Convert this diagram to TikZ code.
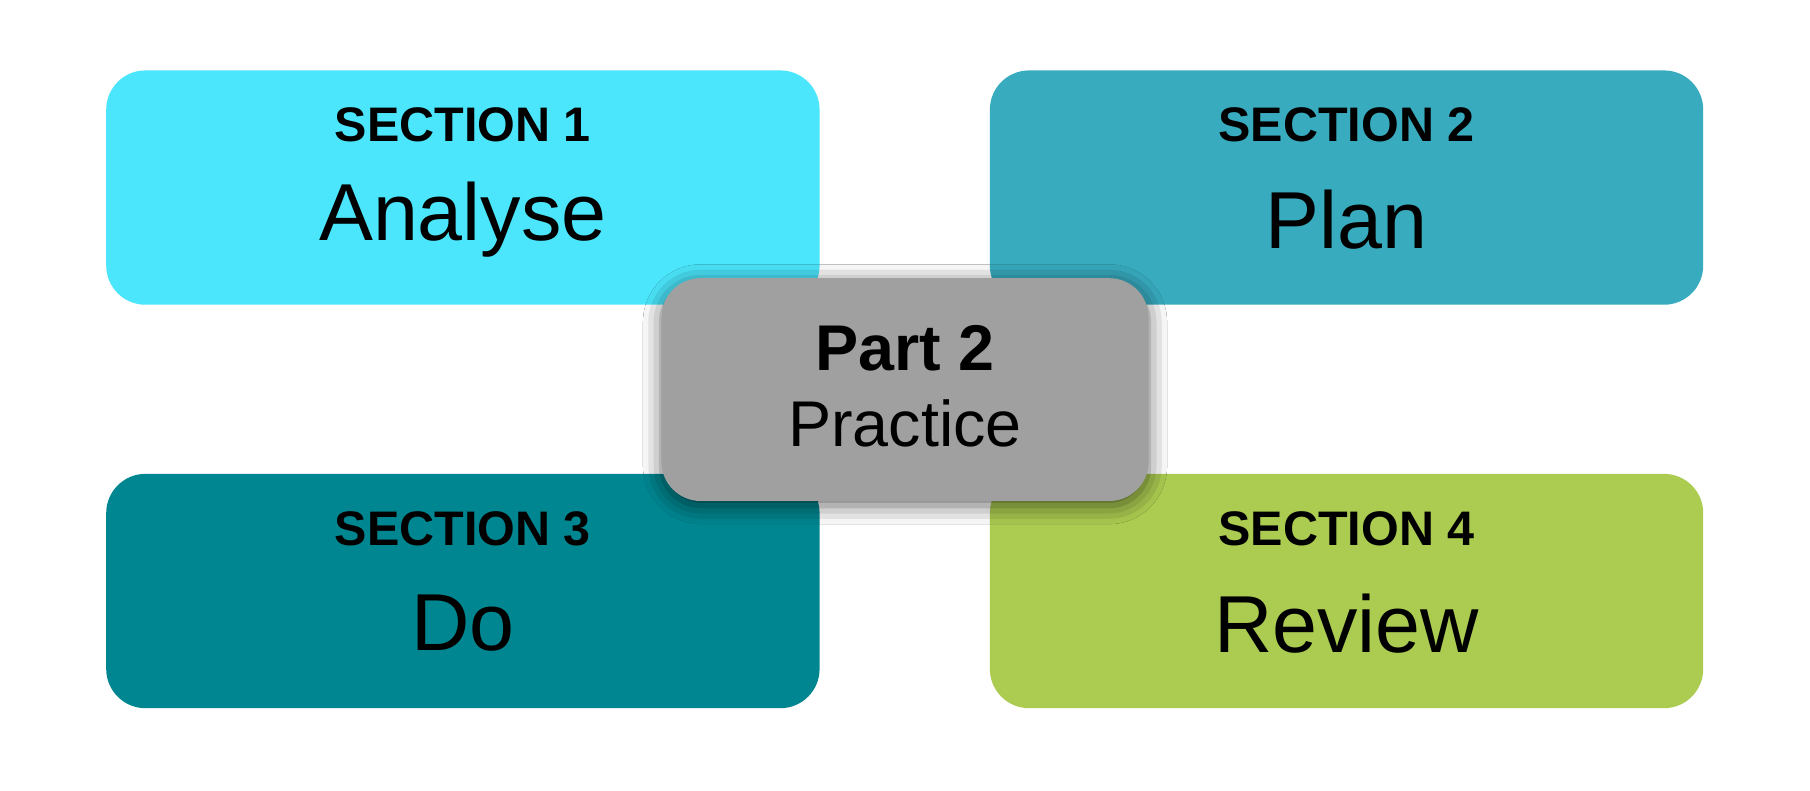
\documentclass[tikz,border=0pt]{standalone}
\usepackage{fontspec}
\setmainfont{Liberation Sans}
\usetikzlibrary{shadows.blur}
\definecolor{c1}{HTML}{4BE6FB}
\definecolor{c2}{HTML}{38ABBE}
\definecolor{c3}{HTML}{008690}
\definecolor{c4}{HTML}{ABCB51}
\definecolor{cg}{HTML}{A0A0A0}
\begin{document}
\begin{tikzpicture}[x=0.5pt,y=-0.5pt,
  sec/.style={rounded corners=17pt,minimum width=309pt,minimum height=101.5pt,inner sep=0pt},
  hd/.style={font=\fontsize{21}{24}\selectfont\bfseries},
  tt/.style={font=\fontsize{35}{40}\selectfont}]
\useasboundingbox[fill=white] (0,0) rectangle (1568,685);
\node[sec,fill=c1] (s1) at (401,162.5) {};
\node[sec,fill=c2] (s2) at (1166.5,162.5) {};
\node[sec,fill=c3] (s3) at (401,512) {};
\node[sec,fill=c4] (s4) at (1166.5,512) {};
\foreach \n/\x/\y/\t in {1/401/0/Analyse,2/1166.5/0/Plan,3/401/350/Do,4/1166.5/350/Review}{
  \node[hd] (h\n) at (\x,{108+\y}) {SECTION \n};
  \node[tt] (t\n) at (\x,{190+\y}) {\t};
}
\node[sec,fill=cg,minimum width=211pt,minimum height=96.5pt,blur shadow={shadow xshift=0pt,shadow yshift=-2pt,shadow blur radius=8pt,shadow opacity=60}] (c) at (784,337.5) {};
\node[font=\fontsize{28}{32}\selectfont\bfseries] (p) at (784,302) {Part 2};
\node[font=\fontsize{28}{32}\selectfont] (pr) at (784,367) {Practice};
\end{tikzpicture}
\end{document}
